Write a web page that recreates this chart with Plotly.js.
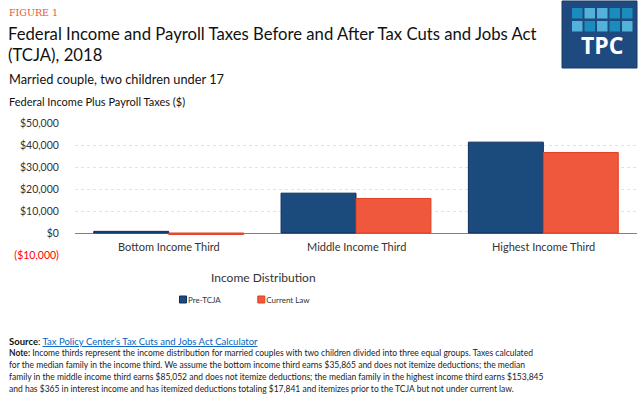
<!DOCTYPE html>
<html>
<head>
<meta charset="utf-8">
<script src="https://cdn.plot.ly/plotly-3.0.1.min.js"></script>
<style>
html,body{margin:0;padding:0;background:#fff;}
#chart{width:640px;height:399px;}
</style>
</head>
<body>
<div id="chart"></div>
<script>
// ---- data ----
const categories = ["Bottom Income Third", "Middle Income Third", "Highest Income Third"];
const preTCJA = [750, 18100, 41300];
const currentLaw = [-650, 15700, 36600];
const seriesNames = ["Pre-TCJA", "Current Law"];
const yTickVals = [-10000, 0, 10000, 20000, 30000, 40000, 50000];
const yTickText = ['<span style="fill:#FF0000">($10,000)</span>', "$0", "$10,000", "$20,000", "$30,000", "$40,000", "$50,000"];

// ---- layout helpers (pixel -> paper) ----
const L = 75, R = 637, T = 123, B = 255;
const W = 640, H = 399;
const px = x => (x - L) / (R - L);
const py = y => (B - y) / (B - T);

const FONT = "Lato, 'Open Sans', sans-serif";

const traces = [
  {type: "bar", name: seriesNames[0], x: categories, y: preTCJA,
   marker: {color: "#1B4A7C", line: {color: "#0F2D5E", width: 1}}, hoverinfo: "none"},
  {type: "bar", name: seriesNames[1], x: categories, y: currentLaw,
   marker: {color: "#F0583E", line: {color: "#E23E22", width: 1}}, hoverinfo: "none"}
];

const annotations = [];
function txt(text, x, y, size, opts) {
  opts = opts || {};
  annotations.push(Object.assign({
    xref: "paper", yref: "paper", x: px(x), y: py(y), text: text, showarrow: false,
    xanchor: "left", yanchor: "middle", align: "left",
    font: {family: FONT, size: size, color: "#1a1a1a"}
  }, opts));
}
txt("FIGURE 1", 7, 12, 10, {font: {family: "'DejaVu Serif', serif", size: 9.5, color: "#E8553A"}});
txt("Federal Income and Payroll Taxes Before and After Tax Cuts and Jobs Act", 6, 34, 16.7, {font: {family: FONT, size: 16.7, color: "#111"}});
txt("(TCJA), 2018", 6, 55, 16.7, {font: {family: FONT, size: 16.7, color: "#111"}});
txt("Married couple, two children under 17", 7, 79, 12.8, {font: {family: FONT, size: 12.8, color: "#111"}});
txt("Federal Income Plus Payroll Taxes ($)", 7, 102, 11, {font: {family: FONT, size: 11, color: "#111"}});
txt("Income Distribution", 263, 277, 12, {xanchor: "center", font: {family: FONT, size: 12, color: "#333"}});
txt('<b>Source</b>: <span style="fill:#0563C1;text-decoration:underline">Tax Policy Center\u2019s Tax Cuts and Jobs Act Calculator</span>', 7, 341, 9.5, {font: {family: FONT, size: 9.5, color: "#111"}});
const noteLines = [
  "<b>Note:</b> Income thirds represent the income distribution for married couples with two children divided into three equal groups. Taxes calculated",
  "for the median family in the income third. We assume the bottom income third earns $35,865 and does not itemize deductions; the median",
  "family in the middle income third earns $85,052 and does not itemize deductions; the median family in the highest income third earns $153,845",
  "and has $365 in interest income and has itemized deductions totaling $17,841 and itemizes prior to the TCJA but not under current law."
];
noteLines.forEach((t, i) => txt(t, 7, 353 + 12 * i, 8.5, {font: {family: FONT, size: 8.5, color: "#222"}}));

// category labels placed through the data scales
categories.forEach(c => annotations.push({
  xref: "x", yref: "y", x: c, y: -6200, text: c, showarrow: false,
  xanchor: "center", yanchor: "middle", font: {family: FONT, size: 11, color: "#333"}
}));

// TPC logo
txt("<b>TPC</b>", 602, 45, 23, {xanchor: "center", font: {family: "'Open Sans', Lato, sans-serif", size: 23, color: "#ffffff"}});
const shapes = [
  {type: "rect", xref: "paper", yref: "paper", x0: px(562), x1: px(637), y0: py(1), y1: py(68),
   fillcolor: "#1E4A7F", line: {color: "#163a68", width: 1}, layer: "below"}
];
const sqColors = [["#1B8CBE", "#52B2D9", "#52B2D9", "#1B8CBE", "#1B8CBE"],
                  ["#52B2D9", "#1B8CBE", "#52B2D9", "#1B8CBE", "#52B2D9"]];
const sqX = [572, 584.5, 597, 609.5, 622];
const sqY = [8, 21];
sqColors.forEach((row, r) => row.forEach((c, k) => shapes.push({
  type: "rect", xref: "paper", yref: "paper", x0: px(sqX[k]), x1: px(sqX[k] + 10.5),
  y0: py(sqY[r]), y1: py(sqY[r] + 10.5), fillcolor: c, line: {width: 0}, layer: "below"
})));

const layout = {
  width: W, height: H,
  margin: {l: L, r: W - R, t: T, b: H - B, pad: 0},
  paper_bgcolor: "#fff", plot_bgcolor: "#fff",
  barmode: "group", bargap: 0.2, bargroupgap: 0,
  showlegend: true,
  legend: {orientation: "h", x: px(148), y: py(285), xanchor: "left", yanchor: "top",
           font: {family: FONT, size: 8, color: "#333"}, tracegroupgap: 0,
           bgcolor: "rgba(0,0,0,0)"},
  xaxis: {showticklabels: false, showgrid: false, zeroline: false, showline: false, ticks: "",
          range: [-0.5, 2.5], fixedrange: true},
  yaxis: {range: [-10000, 50000], tickvals: yTickVals, ticktext: yTickText,
          showgrid: true, gridcolor: "#E2E2E2", griddash: "dot", gridwidth: 1,
          zeroline: true, zerolinecolor: "#808080", zerolinewidth: 1,
          showline: false, ticks: "outside", ticklen: 13, tickcolor: "rgba(0,0,0,0)",
          tickfont: {family: FONT, size: 10.5, color: "#333"}, fixedrange: true},
  annotations: annotations,
  shapes: shapes
};

function shrinkSwatches(gd) {
  // small square swatches placed close to their labels, like the original
  gd.querySelectorAll(".legend .legendpoints path").forEach(p => {
    p.setAttribute("d", "M18.5,3.5H11.5V-3.5H18.5Z");
  });
}
const gd = document.getElementById("chart");
Plotly.newPlot(gd, traces, layout, {displayModeBar: false, staticPlot: true}).then(() => {
  shrinkSwatches(gd);
  setTimeout(() => shrinkSwatches(gd), 50);
});
gd.on && gd.on("plotly_afterplot", () => shrinkSwatches(gd));
</script>
</body>
</html>
